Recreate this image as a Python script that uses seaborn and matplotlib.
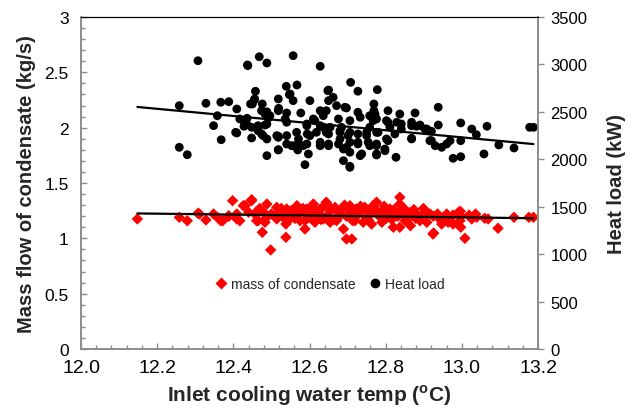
import numpy as np
import pandas as pd
import seaborn as sns
import matplotlib.pyplot as plt
from matplotlib.lines import Line2D
from matplotlib.ticker import MultipleLocator

# heat load (kW) vs inlet temp
heat_temp = [
    12.258, 12.258, 12.279, 12.307, 12.328, 12.367, 12.388, 12.358, 12.348, 12.409,
    12.368, 12.409, 12.468, 12.437, 12.488, 12.458, 12.455, 12.445, 12.476, 12.483,
    12.474, 12.488, 12.493, 12.417, 12.436, 12.428, 12.448, 12.465, 12.448, 12.478,
    12.488, 12.488, 12.518, 12.518, 12.518, 12.518, 12.483, 12.438, 12.557, 12.628,
    12.539, 12.567, 12.547, 12.450, 12.456, 12.557, 12.601, 12.648, 12.519, 12.540,
    12.577, 12.496, 12.426, 12.435, 12.465, 12.488, 12.540, 12.593, 12.614, 12.406,
    12.474, 12.518, 12.540, 12.566, 12.571, 12.594, 12.540, 12.553, 12.575, 12.593,
    12.518, 12.569, 12.597, 12.588, 12.708, 12.727, 12.778, 12.650, 12.549, 12.662,
    12.650, 12.671, 12.697, 12.769, 12.769, 12.806, 12.837, 12.877, 12.628, 12.636,
    12.727, 12.733, 12.758, 12.776, 12.536, 12.610, 12.676, 12.706, 12.802, 12.829,
    12.868, 12.881, 12.593, 12.628, 12.654, 12.684, 12.758, 12.811, 12.841, 12.514,
    12.601, 12.618, 12.650, 12.680, 12.701, 12.727, 12.750, 12.776, 12.802, 12.868,
    12.561, 12.583, 12.628, 12.650, 12.680, 12.706, 12.727, 12.758, 12.776, 12.798,
    12.689, 12.706, 12.733, 12.776, 12.827, 12.689, 12.706, 12.693, 12.772, 12.767,
    12.806, 12.841, 12.868, 12.890, 12.903, 12.920, 12.680, 12.706, 12.750, 12.780,
    12.824, 12.868, 12.806, 12.920, 12.650, 12.676, 12.697, 12.727, 12.754, 12.776,
    12.798, 12.737, 12.776, 12.706, 12.938, 12.890, 12.908, 12.938, 12.916, 12.930,
    12.947, 12.960, 12.969, 12.977, 12.997, 12.997, 12.997, 13.026, 13.038, 13.066,
    13.058, 13.097, 13.137, 13.178, 13.188, 12.644, 12.636, 12.644, 12.628,
]
heat_load = [
    2565, 2126, 2048, 3039, 2590, 2601, 2607, 2459, 2354, 2530,
    2206, 2277, 3081, 2994, 3015, 2717, 2625, 2583, 2583, 2477,
    2512, 2500, 2440, 2425, 2432, 2348, 2337, 2301, 2224, 2249,
    2214, 2038, 2636, 2512, 2231, 2101, 2361, 2987, 3092, 2980,
    2769, 2783, 2681, 2583, 2636, 2618, 2618, 2723, 2537, 2488,
    2488, 2459, 2410, 2372, 2354, 2372, 2390, 2372, 2407, 2284,
    2267, 2242, 2249, 2284, 2214, 2267, 2161, 2143, 2143, 2161,
    2098, 2098, 2056, 1943, 2811, 2717, 2734, 2730, 2688, 2653,
    2618, 2565, 2541, 2583, 2512, 2512, 2477, 2488, 2512, 2459,
    2495, 2443, 2459, 2425, 2425, 2425, 2425, 2407, 2407, 2390,
    2390, 2348, 2354, 2354, 2337, 2337, 2337, 2337, 2319, 2249,
    2249, 2284, 2267, 2284, 2249, 2267, 2249, 2284, 2214, 2221,
    2143, 2143, 2143, 2143, 2214, 2179, 2161, 2143, 2143, 2108,
    2108, 2074, 2038, 2045, 2021, 1985, 1926, 2548, 2477, 2407,
    2390, 2372, 2354, 2354, 2319, 2295, 2301, 2284, 2284, 2284,
    2267, 2214, 2196, 2196, 2161, 2161, 2126, 2179, 2179, 2161,
    2090, 2056, 2056, 1915, 2548, 2361, 2319, 2361, 2196, 2143,
    2126, 2161, 2196, 2010, 2027, 2383, 2196, 2319, 2259, 2348,
    2056, 2151, 2119, 2337, 2337, 2512, 2337, 2284, 2179,
]

# mass of condensate (kg/s) vs inlet temp
mass_temp = [
    12.148, 12.258, 12.279, 12.307, 12.328, 12.348, 12.367, 12.358, 12.388, 12.398,
    12.409, 12.417, 12.431, 12.448, 12.440, 12.459, 12.461, 12.488, 12.483, 12.476,
    12.498, 12.514, 12.514, 12.311, 12.372, 12.388, 12.409, 12.426, 12.448, 12.465,
    12.478, 12.483, 12.538, 12.538, 12.540, 12.567, 12.557, 12.575, 12.588, 12.593,
    12.610, 12.601, 12.614, 12.628, 12.644, 12.636, 12.654, 12.667, 12.680, 12.689,
    12.697, 12.711, 12.706, 12.723, 12.719, 12.745, 12.741, 12.767, 12.776, 12.763,
    12.790, 12.811, 12.815, 12.837, 12.837, 12.820, 12.837, 12.851, 12.868, 12.865,
    12.890, 12.894, 12.916, 12.924, 12.942, 12.960, 12.964, 12.991, 12.894, 12.908,
    12.926, 12.938, 12.947, 12.969, 12.977, 12.996, 12.995, 12.997, 13.008, 13.026,
    13.036, 13.060, 13.069, 13.095, 13.137, 13.176, 13.188,
    12.500, 12.521, 12.531, 12.542, 12.552, 12.562, 12.573, 12.583, 12.594, 12.604,
    12.614, 12.625, 12.635, 12.645, 12.656, 12.666, 12.677, 12.687, 12.697, 12.708,
    12.718, 12.728, 12.739, 12.749, 12.759, 12.770, 12.780, 12.791, 12.801, 12.811,
    12.822, 12.832, 12.842, 12.853, 12.863, 12.874, 12.884, 12.905, 12.925,
    12.526, 12.547, 12.568, 12.588, 12.609, 12.630, 12.651, 12.671, 12.692, 12.713,
    12.734, 12.754, 12.775, 12.796, 12.816, 12.848, 12.879, 12.490, 12.469, 12.459,
    12.899, 12.936, 12.956, 12.977, 12.998, 13.019, 13.039,
]
mass_flow = [
    1.175, 1.190, 1.159, 1.226, 1.166, 1.220, 1.159, 1.190, 1.199, 1.340,
    1.220, 1.159, 1.295, 1.340, 1.235, 1.235, 1.159, 1.310, 1.175, 1.054,
    0.895, 1.280, 1.175, 1.220, 1.159, 1.204, 1.175, 1.295, 1.349, 1.159,
    1.241, 1.145, 1.129, 1.009, 1.265, 1.295, 1.204, 1.159, 1.084, 1.265,
    1.310, 1.190, 1.145, 1.265, 1.326, 1.175, 1.145, 1.280, 1.204, 1.084,
    0.994, 0.994, 1.295, 1.265, 1.159, 1.280, 1.145, 1.295, 1.326, 1.129,
    1.145, 1.265, 1.204, 1.371, 1.310, 1.100, 1.100, 1.159, 1.204, 1.114,
    1.159, 1.204, 1.220, 1.039, 1.175, 1.220, 1.145, 1.235, 1.190, 1.145,
    1.048, 1.190, 1.129, 1.159, 1.129, 1.244, 1.159, 1.100, 1.000, 1.175,
    1.220, 1.181, 1.175, 1.091, 1.190, 1.190, 1.190,
    1.22, 1.24, 1.19, 1.21, 1.25, 1.18, 1.23, 1.27, 1.21, 1.24,
    1.18, 1.22, 1.28, 1.20, 1.25, 1.17, 1.23, 1.27, 1.20, 1.24,
    1.18, 1.22, 1.26, 1.19, 1.23, 1.27, 1.21, 1.24, 1.18, 1.22,
    1.26, 1.20, 1.24, 1.19, 1.23, 1.26, 1.21, 1.24, 1.20,
    1.27, 1.17, 1.26, 1.16, 1.27, 1.17, 1.29, 1.16, 1.30, 1.16,
    1.29, 1.17, 1.25, 1.29, 1.17, 1.27, 1.18, 1.20, 1.27, 1.21,
    1.27, 1.22, 1.19, 1.21, 1.20, 1.21, 1.19,
]

heat = pd.DataFrame({"temp": heat_temp, "load": heat_load})
mass = pd.DataFrame({"temp": mass_temp, "flow": mass_flow})

sns.set_theme(style="white")
plt.rcParams["font.family"] = ["Liberation Sans", "DejaVu Sans"]
plt.rcParams["mathtext.fontset"] = "custom"
plt.rcParams["mathtext.rm"] = "Liberation Sans:bold"
plt.rcParams["mathtext.bf"] = "Liberation Sans:bold"

fig = plt.figure(figsize=(6.38, 4.14), dpi=100)
ax = fig.add_axes([0.127, 0.1546, 0.7163, 0.802])
ax2 = ax.twinx()

sns.scatterplot(data=mass, x="temp", y="flow", ax=ax, color="#ff0000", marker="D",
                s=34, edgecolor="none", legend=False, zorder=2)
sns.scatterplot(data=heat, x="temp", y="load", ax=ax2, color="black", marker="o",
                s=40, edgecolor="none", legend=False, zorder=2)

# linear trendlines (excel style) over the measured temp range
xr = np.array([min(mass_temp), max(mass_temp)])
k, b = np.polyfit(mass["temp"], mass["flow"], 1)
ax.plot(xr, k * xr + b, color="black", lw=1.6, zorder=3)
k2, b2 = np.polyfit(heat["temp"], heat["load"], 1)
ax2.plot(xr, k2 * xr + b2, color="black", lw=1.6, zorder=3)

ax.set_xlim(12.0, 13.2)
ax.set_ylim(0, 3)
ax2.set_ylim(0, 3500)
ax.xaxis.set_minor_locator(MultipleLocator(0.04))
ax.yaxis.set_minor_locator(MultipleLocator(0.1))
ax2.yaxis.set_major_locator(MultipleLocator(500))
xt = [12.0, 12.2, 12.4, 12.6, 12.8, 13.0, 13.2]
ax.set_xticks(xt)
ax.set_xticklabels([f"{v:.1f}" for v in xt])
ax.set_yticks([0, 0.5, 1, 1.5, 2, 2.5, 3])
ax.set_yticklabels(["0", "0.5", "1", "1.5", "2", "2.5", "3"])

grey = "#8c8c8c"
for a in (ax, ax2):
    for side in ("left", "right", "bottom"):
        a.spines[side].set_color(grey)
        a.spines[side].set_linewidth(1.2)
    a.spines["top"].set_color("black")
    a.spines["top"].set_linewidth(0.8)
ax.tick_params(axis="x", which="both", direction="in", colors=grey, labelcolor="black",
               labelsize=14, length=4, width=1, bottom=True, pad=7)
ax.tick_params(axis="x", which="minor", length=3)
ax.tick_params(axis="y", which="both", direction="in", colors=grey, labelcolor="black",
               labelsize=12.5, length=4, width=1, left=True, pad=9)
ax.tick_params(axis="y", which="minor", length=3)
ax2.tick_params(axis="y", direction="out", colors=grey, labelcolor="black",
                labelsize=12, length=4, width=1, right=True, pad=5)

ax.set_xlabel(r"Inlet cooling water temp ($^{\mathrm{o}}$C)", fontsize=15,
              fontweight="bold", labelpad=5)
ax.set_ylabel("Mass flow of condensate (kg/s)", fontsize=14.5, fontweight="bold", labelpad=6)
ax2.set_ylabel("Heat load (kW)", fontsize=14.5, fontweight="bold", labelpad=14)

handles = [
    Line2D([0], [0], marker="D", color="none", markerfacecolor="#ff0000",
           markeredgecolor="none", markersize=6, label="mass of condensate"),
    Line2D([0], [0], marker="o", color="none", markerfacecolor="black",
           markeredgecolor="none", markersize=7, label="Heat load"),
]
ax2.legend(handles=handles, loc="center", bbox_to_anchor=(0.545, 0.196), ncol=2,
           frameon=False, fontsize=10, handletextpad=0.3, columnspacing=1.0,
           handlelength=0.8)

fig.savefig("out.png", dpi=100)
